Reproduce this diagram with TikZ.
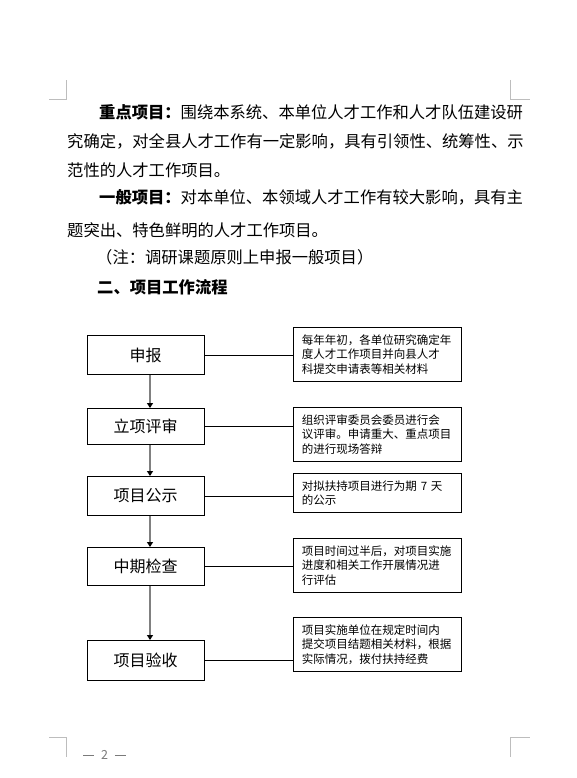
\documentclass[tikz,border=0pt]{standalone}
\usepackage{fontspec}
\setmainfont{Noto Sans CJK SC}
\usetikzlibrary{positioning, arrows.meta}
\definecolor{cArrow}{HTML}{808080}
\definecolor{cCrop}{HTML}{BDBDBD}
\definecolor{cPageNo}{HTML}{7A7A7A}
\XeTeXlinebreaklocale "zh"
\XeTeXlinebreakskip=0pt plus 3pt minus 1pt
\newcommand{\fullline}[2]{\hbox to #1{#2}}
\tikzset{
  body/.style={inner sep=0pt, anchor=base west, font=\fontsize{16.3}{20}\selectfont},
  stage/.style={draw, line width=0.9pt, minimum width=117pt, minimum height=38pt,
    inner sep=0pt, anchor=north, font=\fontsize{16}{20}\selectfont},
  note/.style={draw, line width=0.9pt, anchor=north west, align=left, text width=151pt,
    inner xsep=8.5pt, inner ysep=7pt, font=\fontsize{11.5}{14.5}\selectfont},
  link/.style={line width=0.9pt},
  flow/.style={draw=cArrow, line width=1.6pt,
    -{Triangle[length=5pt, width=6pt, color=black]}},
  crop/.style={draw=cCrop, line width=0.8pt},
}
\begin{document}
\begin{tikzpicture}[x=1pt, y=-1pt]
  \useasboundingbox (0,0) rectangle (577,778);
  % crop marks
  \draw[crop] (49,99) -- (66.6,99) -- (66.6,80);
  \draw[crop] (510,80) -- (510,99) -- (529.6,99);
  \draw[crop] (49,737.7) -- (66.6,737.7) -- (66.6,757);
  \draw[crop] (529.6,737.7) -- (510,737.7) -- (510,757);
  \node[font=\fontsize{12.5}{14}\selectfont, text=cPageNo] (pageno) at (104.5,755)
    {\rule[3.6pt]{11pt}{0.8pt}\hspace{7pt}2\hspace{7pt}\rule[3.6pt]{11pt}{0.8pt}};

  % body text
  \node[body] (p1) at (99,119) {\fullline{408pt}{\textbf{重点项目：}围绕本系统、本单位人才工作和人才队伍建设研}};
  \node[body] (p2) at (67,148) {\fullline{440pt}{究确定，对全县人才工作有一定影响，具有引领性、统筹性、示}};
  \node[body] (p3) at (67,176) {范性的人才工作项目。};
  \node[body] (p4) at (99,203) {\fullline{408pt}{\textbf{一般项目：}对本单位、本领域人才工作有较大影响，具有主}};
  \node[body] (p5) at (67,236) {题突出、特色鲜明的人才工作项目。};
  \node[body] (p6) at (96,263) {（注：调研课题原则上申报一般项目）};
  \node[body] (h2) at (97,293) {\textbf{二、项目工作流程}};

  % flow stages
  \node[stage, minimum height=39pt] (s1) at (145.5,335) {申报};
  \node[stage, minimum height=36pt] (s2) at (145.5,408) {立项评审};
  \node[stage, minimum height=39pt] (s3) at (145.5,476) {项目公示};
  \node[stage] (s4) at (145.5,547) {中期检查};
  \node[stage, minimum height=40pt] (s5) at (145.5,640) {项目验收};

  % notes
  \node[note] (n1) at (293,327) {每年年初，各单位研究确定年\\度人才工作项目并向县人才\\科提交申请表等相关材料};
  \node[note] (n2) at (293,407) {组织评审委员会委员进行会\\议评审。申请重大、重点项目\\的进行现场答辩};
  \node[note] (n3) at (293,473) {对拟扶持项目进行为期 7 天\\的公示};
  \node[note] (n4) at (293,538) {项目时间过半后，对项目实施\\进度和相关工作开展情况进\\行评估};
  \node[note] (n5) at (293,617) {项目实施单位在规定时间内\\提交项目结题相关材料，根据\\实际情况，拨付扶持经费};

  \foreach \i in {1,...,5}
    \draw[link] (s\i.east) -- (s\i.east -| n\i.west);
  \foreach \i/\j in {1/2, 2/3, 3/4, 4/5}
    \draw[flow] ([xshift=4.5pt]s\i.south) -- ([xshift=4.5pt]s\j.north);
\end{tikzpicture}
\end{document}
